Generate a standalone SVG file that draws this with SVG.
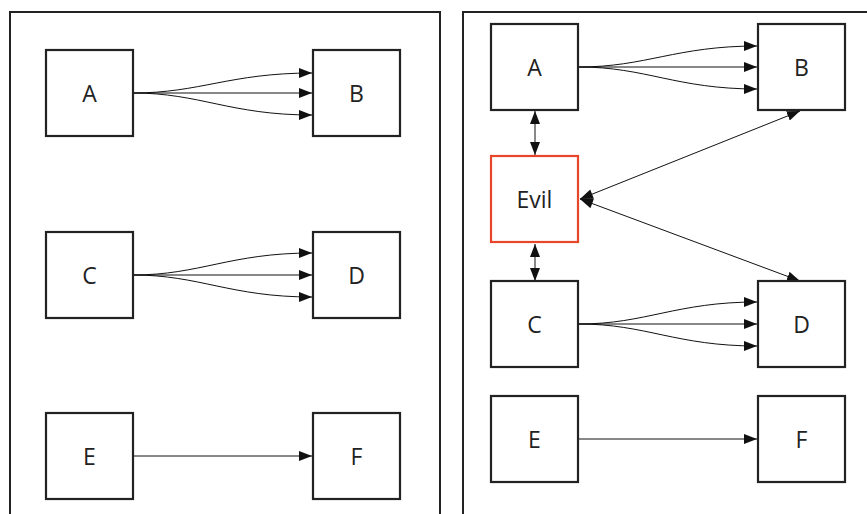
<svg xmlns="http://www.w3.org/2000/svg" width="867" height="514" viewBox="0 0 867 514">
<style>
.panel{fill:none;stroke:#222;stroke-width:2}
.box{fill:#fff;stroke:#222;stroke-width:2.2}
.evil{fill:#fff;stroke:#e8462a;stroke-width:2.2}
.lbl{font-family:"Open Sans","Noto Sans",sans-serif;font-size:23px;fill:#222;text-anchor:middle;dominant-baseline:central}
.e{fill:none;stroke:#111;stroke-width:1}
</style>
<defs>
<marker id="ah" markerWidth="14" markerHeight="10" refX="13" refY="5" orient="auto" markerUnits="userSpaceOnUse">
<path d="M0,0 L13,5 L0,10 Z" fill="#111"/>
</marker>
<marker id="as" markerWidth="14" markerHeight="10" refX="0" refY="5" orient="auto" markerUnits="userSpaceOnUse">
<path d="M13,0 L0,5 L13,10 Z" fill="#111"/>
</marker>
</defs>
<rect width="867" height="514" fill="#fff"/>
<path class="panel" d="M10,520 L10,12 L440,12 L440,520"/>
<path class="panel" d="M463,520 L463,12 L875,12"/>
<g id="connectors">
<path class="e" d="M133,93 C200,93 230,73 312,73" marker-end="url(#ah)"/>
<path class="e" d="M133,93 L312,93" marker-end="url(#ah)"/>
<path class="e" d="M133,93 C200,93 230,115 312,115" marker-end="url(#ah)"/>
<path class="e" d="M133,275 C200,275 230,253 312,253" marker-end="url(#ah)"/>
<path class="e" d="M133,275 L312,275" marker-end="url(#ah)"/>
<path class="e" d="M133,275 C200,275 230,297 312,297" marker-end="url(#ah)"/>
<path class="e" d="M133,456 L312,456" marker-end="url(#ah)"/>
<path class="e" d="M579,67 C646,67 676,46 757,46" marker-end="url(#ah)"/>
<path class="e" d="M579,67 L757,67" marker-end="url(#ah)"/>
<path class="e" d="M579,67 C646,67 676,89 757,89" marker-end="url(#ah)"/>
<path class="e" d="M535,111 L535,155" marker-start="url(#as)" marker-end="url(#ah)"/>
<path class="e" d="M535,244 L535,281" marker-start="url(#as)" marker-end="url(#ah)"/>
<path class="e" d="M580,199 L800,111" marker-start="url(#as)" marker-end="url(#ah)"/>
<path class="e" d="M580,199 L800,281" marker-start="url(#as)" marker-end="url(#ah)"/>
<path class="e" d="M579,324 C646,324 676,302 757,302" marker-end="url(#ah)"/>
<path class="e" d="M579,324 L757,324" marker-end="url(#ah)"/>
<path class="e" d="M579,324 C646,324 676,346 757,346" marker-end="url(#ah)"/>
<path class="e" d="M579,439 L757,439" marker-end="url(#ah)"/>
</g>
<g id="L_A"><rect class="box" x="46" y="50" width="87" height="86"/><text class="lbl" x="89.5" y="93">A</text></g>
<g id="L_B"><rect class="box" x="313" y="50" width="87" height="86"/><text class="lbl" x="356.5" y="93">B</text></g>
<g id="L_C"><rect class="box" x="46" y="232" width="87" height="86"/><text class="lbl" x="89.5" y="275">C</text></g>
<g id="L_D"><rect class="box" x="313" y="232" width="87" height="86"/><text class="lbl" x="356.5" y="275">D</text></g>
<g id="L_E"><rect class="box" x="46" y="413" width="87" height="86"/><text class="lbl" x="89.5" y="456">E</text></g>
<g id="L_F"><rect class="box" x="313" y="413" width="87" height="86"/><text class="lbl" x="356.5" y="456">F</text></g>
<g id="R_A"><rect class="box" x="491" y="24" width="87" height="86"/><text class="lbl" x="534.5" y="67">A</text></g>
<g id="R_B"><rect class="box" x="758" y="24" width="87" height="86"/><text class="lbl" x="801.5" y="67">B</text></g>
<g id="R_Evil"><rect class="evil" x="491" y="156" width="87" height="86"/><text class="lbl" x="534.5" y="199">Evil</text></g>
<g id="R_C"><rect class="box" x="491" y="281" width="87" height="86"/><text class="lbl" x="534.5" y="324">C</text></g>
<g id="R_D"><rect class="box" x="758" y="281" width="87" height="86"/><text class="lbl" x="801.5" y="324">D</text></g>
<g id="R_E"><rect class="box" x="491" y="396" width="87" height="86"/><text class="lbl" x="534.5" y="439">E</text></g>
<g id="R_F"><rect class="box" x="758" y="396" width="87" height="86"/><text class="lbl" x="801.5" y="439">F</text></g>
</svg>
